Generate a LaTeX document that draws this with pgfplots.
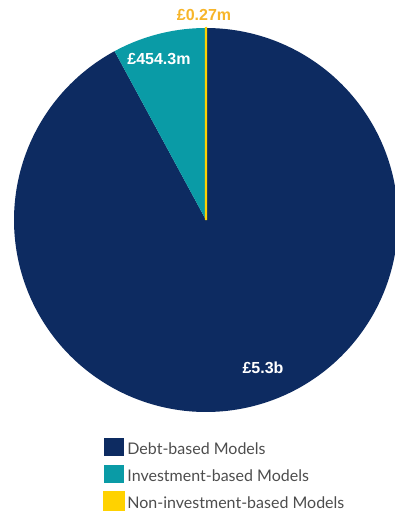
\documentclass[border=0pt]{standalone}
\usepackage{pgfplots}
\pgfplotsset{compat=1.18}
\usepackage{fontspec}
\setmainfont{Lato}
\newfontfamily\labfont{Liberation Sans}
\definecolor{debt}{HTML}{0D2B61}
\definecolor{invest}{HTML}{0A9BA6}
\definecolor{nonc}{HTML}{FFD200}
\definecolor{goldlab}{HTML}{F7B52A}
\definecolor{legtext}{HTML}{4D4D4D}

% values (GBP m)
\def\vDebt{5300}
\def\vInv{454.3}
\def\vNon{0.27}
\pgfmathsetmacro\vTot{\vDebt+\vInv+\vNon}
\pgfmathsetmacro\aDebt{90-360*(\vDebt/\vTot)}
\pgfmathsetmacro\aInv{\aDebt-360*(\vInv/\vTot)}
\pgfmathsetmacro\aNon{\aInv-360*(\vNon/\vTot)}

\begin{document}
\begin{tikzpicture}[x=0.75pt,y=0.75pt]
\useasboundingbox (-14,-99) rectangle (381,412);
\begin{axis}[
    at={(0,0)}, anchor=south west,
    width=288pt, height=288pt, scale only axis,
    xmin=-1, xmax=1, ymin=-1, ymax=1,
    hide axis, clip=false,
    legend image code/.code={\fill[#1] (0pt,-4pt) rectangle (15pt,9.5pt);},
    legend style={at={(rel axis cs:0.22,-0.06)}, anchor=north west,
        draw=none, fill=none, font=\fontsize{12pt}{14pt}\selectfont,
        text=legtext, row sep=4.5pt, column sep=0pt,
        nodes={inner sep=0pt, text height=9pt, text depth=3pt, anchor=west}},
    legend cell align=left,
]
\addplot[fill=debt, draw=none, domain=\aDebt:90, samples=300, variable=\t]
    ({cos(\t)},{sin(\t)}) -- (axis cs:0,0) -- cycle;
\addlegendentry{\,Debt-based Models}
\addplot[fill=invest, draw=none, domain=\aInv:\aDebt, samples=40, variable=\t]
    ({cos(\t)},{sin(\t)}) -- (axis cs:0,0) -- cycle;
\addlegendentry{\,Investment-based Models}
\addplot[fill=nonc, draw=nonc, line width=1.5pt, domain=\aNon:\aInv, samples=2, variable=\t]
    ({cos(\t)},{sin(\t)}) -- (axis cs:0,0) -- cycle;
\addlegendentry{\,Non-investment-based Models}

\node[font=\labfont\bfseries\fontsize{12pt}{14pt}\selectfont, text=white] at (axis cs:0.297,-0.771) {£5.3b};
\node[font=\labfont\bfseries\fontsize{12pt}{14pt}\selectfont, text=white] at (axis cs:-0.245,0.839) {£454.3m};
\node[font=\labfont\bfseries\fontsize{12pt}{14pt}\selectfont, text=goldlab] at (axis cs:-0.010,1.068) {£0.27m};
\end{axis}
\end{tikzpicture}
\end{document}
